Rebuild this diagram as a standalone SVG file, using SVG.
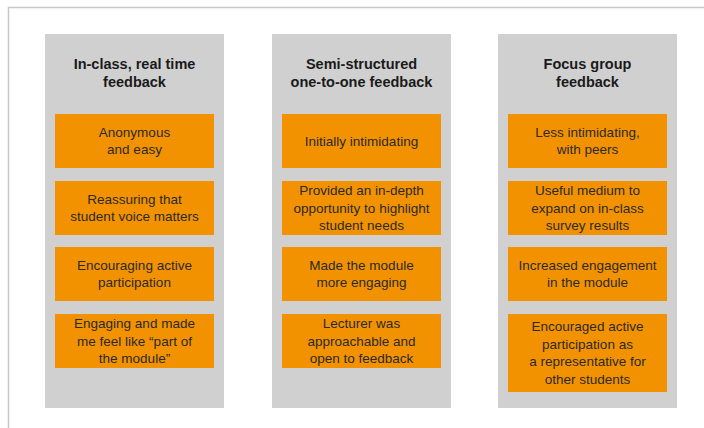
<svg xmlns="http://www.w3.org/2000/svg" width="704" height="428" viewBox="0 0 704 428">
<style>
.frame{fill:none;stroke:#c8c8c8;stroke-width:1.5}
.col{fill:#d0d0d0}
.box{fill:#f39200}
.h{font-family:"Liberation Sans",Arial,sans-serif;font-size:14.5px;font-weight:bold;fill:#1a1a1a;text-anchor:middle}
.t{font-family:"Liberation Sans",Arial,sans-serif;font-size:13.5px;fill:#2a2a2a;text-anchor:middle}
</style>
<rect width="704" height="428" fill="#ffffff"/>
<path class="frame" d="M8.5 428 V7.5 H704"/>
<g id="col1">
<rect class="col" x="45" y="34" width="179" height="374"/>
<text class="h" x="134.5" y="69">In-class, real time</text>
<text class="h" x="134.5" y="87">feedback</text>
</g>
<g id="col1-box1"><rect class="box" x="55" y="114" width="159" height="54"/>
<text class="t" x="134.5" y="136.75">Anonymous</text><text class="t" x="134.5" y="154.25">and easy</text></g>
<g id="col1-box2"><rect class="box" x="55" y="181" width="159" height="54"/>
<text class="t" x="134.5" y="203.75">Reassuring that</text><text class="t" x="134.5" y="221.25">student voice matters</text></g>
<g id="col1-box3"><rect class="box" x="55" y="247" width="159" height="54"/>
<text class="t" x="134.5" y="269.75">Encouraging active</text><text class="t" x="134.5" y="287.25">participation</text></g>
<g id="col1-box4"><rect class="box" x="55" y="314" width="159" height="54"/>
<text class="t" x="134.5" y="328">Engaging and made</text><text class="t" x="134.5" y="345.5">me feel like “part of</text><text class="t" x="134.5" y="363">the module”</text></g>

<g id="col2">
<rect class="col" x="272" y="34" width="179" height="374"/>
<text class="h" x="361.5" y="69">Semi-structured</text>
<text class="h" x="361.5" y="87">one-to-one feedback</text>
</g>
<g id="col2-box1"><rect class="box" x="282" y="114" width="159" height="54"/>
<text class="t" x="361.5" y="145.5">Initially intimidating</text></g>
<g id="col2-box2"><rect class="box" x="282" y="181" width="159" height="54"/>
<text class="t" x="361.5" y="195">Provided an in-depth</text><text class="t" x="361.5" y="212.5">opportunity to highlight</text><text class="t" x="361.5" y="230">student needs</text></g>
<g id="col2-box3"><rect class="box" x="282" y="247" width="159" height="54"/>
<text class="t" x="361.5" y="269.75">Made the module</text><text class="t" x="361.5" y="287.25">more engaging</text></g>
<g id="col2-box4"><rect class="box" x="282" y="314" width="159" height="54"/>
<text class="t" x="361.5" y="328">Lecturer was</text><text class="t" x="361.5" y="345.5">approachable and</text><text class="t" x="361.5" y="363">open to feedback</text></g>

<g id="col3">
<rect class="col" x="498" y="34" width="179" height="374"/>
<text class="h" x="587.5" y="69">Focus group</text>
<text class="h" x="587.5" y="87">feedback</text>
</g>
<g id="col3-box1"><rect class="box" x="508" y="114" width="159" height="54"/>
<text class="t" x="587.5" y="136.75">Less intimidating,</text><text class="t" x="587.5" y="154.25">with peers</text></g>
<g id="col3-box2"><rect class="box" x="508" y="181" width="159" height="54"/>
<text class="t" x="587.5" y="195">Useful medium to</text><text class="t" x="587.5" y="212.5">expand on in-class</text><text class="t" x="587.5" y="230">survey results</text></g>
<g id="col3-box3"><rect class="box" x="508" y="247" width="159" height="54"/>
<text class="t" x="587.5" y="269.75">Increased engagement</text><text class="t" x="587.5" y="287.25">in the module</text></g>
<g id="col3-box4"><rect class="box" x="508" y="314" width="159" height="78"/>
<text class="t" x="587.5" y="331.25">Encouraged active</text><text class="t" x="587.5" y="348.75">participation as</text><text class="t" x="587.5" y="366.25">a representative for</text><text class="t" x="587.5" y="383.75">other students</text></g>
<g id="connectors"/>
</svg>
